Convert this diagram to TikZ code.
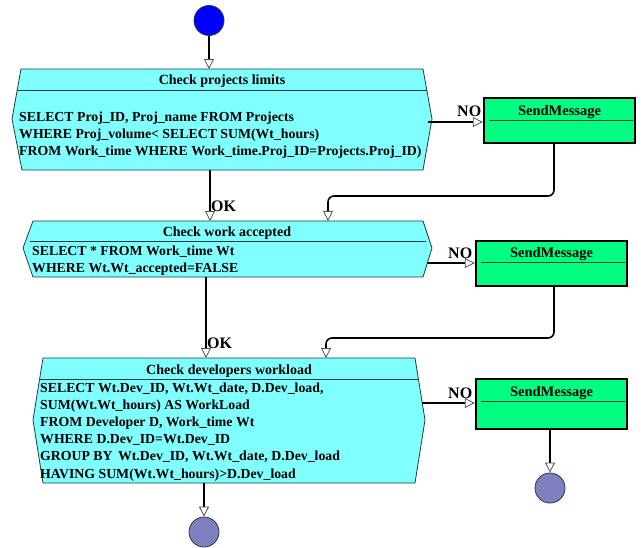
\documentclass[tikz,border=0pt]{standalone}
\usepackage{fontspec}
\setmainfont{Liberation Serif}
\usetikzlibrary{arrows.meta}

\definecolor{boxcyan}{HTML}{80FFFF}
\definecolor{msggreen}{HTML}{00FF80}
\definecolor{startblue}{HTML}{0000FF}
\definecolor{endslate}{HTML}{8080C0}
\definecolor{edgedark}{HTML}{1E3C3C}
\definecolor{tipgray}{HTML}{505050}

\begin{document}
\begin{tikzpicture}[x=1pt, y=-1pt,
  flow/.style={line width=1.6pt, black,
    -{Triangle[open, length=10pt, width=10pt, line width=0.8pt, color=tipgray]}},
  turnflow/.style={flow, rounded corners=6pt},
  actbox/.style={fill=boxcyan, draw=edgedark, line width=0.8pt},
  divider/.style={draw=edgedark, line width=0.8pt},
  sendbox/.style={rectangle, fill=msggreen, draw=black, line width=2.4pt,
    inner sep=0, minimum width=151pt},
  bodytext/.style={anchor=base west, inner sep=0,
    font=\bfseries\fontsize{13.8}{16}\selectfont},
  titletext/.style={anchor=base, inner sep=0,
    font=\bfseries\fontsize{14}{16}\selectfont},
  msgtitle/.style={anchor=base, inner sep=0,
    font=\bfseries\fontsize{14.5}{16}\selectfont},
  flag/.style={anchor=base west, inner sep=0,
    font=\bfseries\fontsize{16}{18}\selectfont},
  startdot/.style={circle, fill=startblue, draw=edgedark, line width=0.8pt,
    minimum size=30pt, inner sep=0},
  enddot/.style={circle, fill=endslate, draw=edgedark, line width=0.8pt,
    minimum size=30pt, inner sep=0}
]
\useasboundingbox (0,0) rectangle (642,547);

% ---------- start ----------
\node[startdot] (start) at (209,20.5) {};

% ---------- activity 1 ----------
\path[actbox] (21,69) -- (423,69) -- (432,119) -- (423,170) -- (22,170) -- (12,119) -- cycle;
\draw[divider] (17,90) -- (427,90);
\coordinate (a1top) at (209,69);
\coordinate (a1bot) at (210,170);
\coordinate (a1right) at (428,122);
\node[titletext] (a1title) at (222,84.5) {Check projects limits};
\node[bodytext] (a1l1) at (19,121.7) {SELECT Proj\_ID, Proj\_name FROM Projects};
\node[bodytext] (a1l2) at (19,138.3) {WHERE Proj\_volume< SELECT SUM(Wt\_hours)};
\node[bodytext] (a1l3) at (19,155) {FROM Work\_time WHERE Work\_time.Proj\_ID=Projects.Proj\_ID)};

% ---------- activity 2 ----------
\path[actbox] (33,221) -- (423,221) -- (432,248) -- (423,277) -- (33,277) -- (23,248) -- cycle;
\draw[divider] (30,241) -- (426,241);
\coordinate (a2top) at (210,221);
\coordinate (a2in) at (328,221);
\coordinate (a2bot) at (206,277);
\coordinate (a2right) at (427,263);
\node[titletext] (a2title) at (227,236.5) {Check work accepted};
\node[bodytext] (a2l1) at (32,255.7) {SELECT * FROM Work\_time Wt};
\node[bodytext] (a2l2) at (32,272.5) {WHERE Wt.Wt\_accepted=FALSE};

% ---------- activity 3 ----------
\path[actbox] (43,358) -- (415,358) -- (425,420) -- (415,483) -- (43,483) -- (33,420) -- cycle;
\draw[divider] (40,379) -- (418,379);
\coordinate (a3top) at (206,358);
\coordinate (a3in) at (326,358);
\coordinate (a3bot) at (204,483);
\coordinate (a3right) at (422,403);
\node[titletext] (a3title) at (229,374) {Check developers workload};
\node[bodytext] (a3l1) at (40,392.3) {SELECT Wt.Dev\_ID, Wt.Wt\_date, D.Dev\_load,};
\node[bodytext] (a3l2) at (40,409.5) {SUM(Wt.Wt\_hours) AS WorkLoad};
\node[bodytext] (a3l3) at (40,426.7) {FROM Developer D, Work\_time Wt};
\node[bodytext] (a3l4) at (40,443.5) {WHERE D.Dev\_ID=Wt.Dev\_ID};
\node[bodytext] (a3l5) at (40,460.7) {GROUP BY\hspace{2pt} Wt.Dev\_ID, Wt.Wt\_date, D.Dev\_load};
\node[bodytext] (a3l6) at (40,478) {HAVING SUM(Wt.Wt\_hours)>D.Dev\_load};

% ---------- message boxes ----------
\node[sendbox, minimum height=45pt] (s1) at (559.5,120.5) {};
\draw[divider] (489,120) -- (633,120);
\node[msgtitle] (s1t) at (559.5,115) {SendMessage};

\node[sendbox, minimum height=45pt] (s2) at (551.5,263.5) {};
\draw[divider] (481,262) -- (625,262);
\node[msgtitle] (s2t) at (551.5,257.7) {SendMessage};

\node[sendbox, minimum height=50pt] (s3) at (551.5,404) {};
\draw[divider] (481,401) -- (625,401);
\node[msgtitle] (s3t) at (551.5,396.5) {SendMessage};

% ---------- end points ----------
\node[enddot] (end1) at (204,532) {};
\node[enddot] (end2) at (550,488) {};

% ---------- connectors ----------
\draw[flow] (start) -- (a1top);
\draw[flow] (a1bot) -- (a2top);
\draw[flow] (a2bot) -- (a3top);
\draw[flow] (a3bot) -- (end1);

\draw[flow] (a1right) -- (s1.west |- a1right);
\draw[flow] (a2right) -- (s2.west |- a2right);
\draw[flow] (a3right) -- (s3.west |- a3right);

\draw[turnflow] (554,143) -- (554,196) -- (328,196) -- (a2in);
\draw[turnflow] (554,286) -- (554,338) -- (326,338) -- (a3in);
\draw[flow] (s3.south -| end2) -- (end2);

% ---------- guard labels ----------
\node[flag] (no1) at (457,116) {NO};
\node[flag] (no2) at (448,258) {NO};
\node[flag] (no3) at (448,398) {NO};
\node[flag] (ok1) at (211,211) {OK};
\node[flag] (ok2) at (207,348) {OK};
\end{tikzpicture}
\end{document}
